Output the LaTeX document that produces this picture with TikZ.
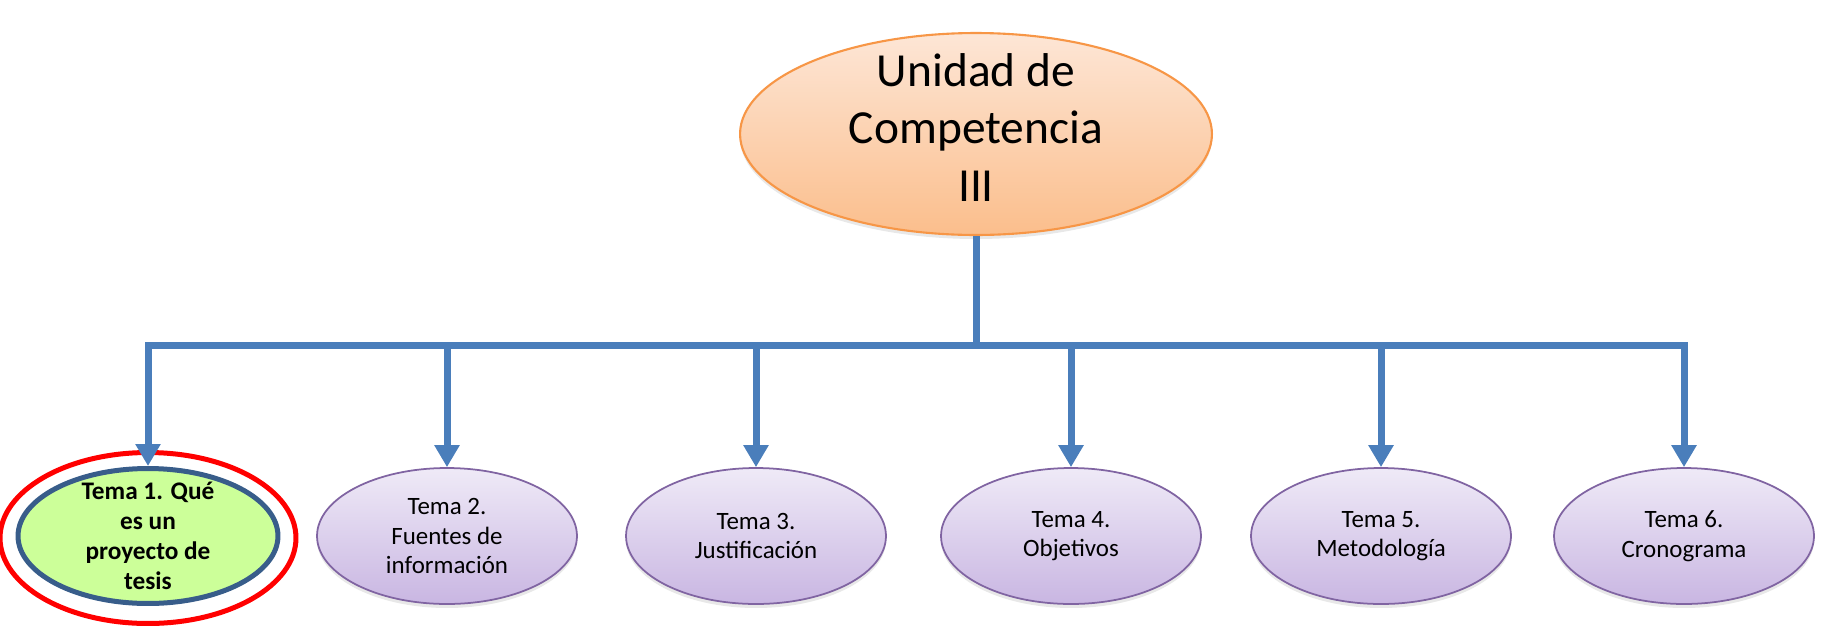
\documentclass[tikz,border=0pt]{standalone}
\usepackage{fontspec}
\setmainfont{Carlito}
\usepackage{tikz}
\usetikzlibrary{arrows.meta,shapes.geometric,shadows}

\definecolor{azul}{HTML}{4A7EBB}
\definecolor{naranjaclaro}{HTML}{FDE6D6}
\definecolor{naranjaoscuro}{HTML}{FBBE8C}
\definecolor{naranjaborde}{HTML}{F79646}
\definecolor{moradoclaro}{HTML}{EFEAF7}
\definecolor{moradooscuro}{HTML}{C9B6E2}
\definecolor{moradoborde}{HTML}{8064A2}
\definecolor{verde}{HTML}{CCFF99}
\definecolor{azulborde}{HTML}{385D8A}

\begin{document}
\begin{tikzpicture}[x = 0.02cm, y = -0.02cm,
  unidad/.style = {ellipse, draw=naranjaborde, line width=1.2pt, top color=naranjaclaro, bottom color=naranjaoscuro,
    minimum width=9.44cm, minimum height=4.04cm, inner sep=-0.6cm, align=center, font=\fontsize{27}{32.5}\selectfont,
    drop shadow={opacity=0.18, shadow xshift=0pt, shadow yshift=-0.08cm}},
  tema/.style = {ellipse, draw=moradoborde, line width=1pt, top color=moradoclaro, bottom color=moradooscuro,
    minimum width=5.2cm, minimum height=2.72cm, inner sep=-0.3cm, align=center, font=\fontsize{14.2}{16.8}\selectfont,
    drop shadow={opacity=0.18, shadow xshift=0pt, shadow yshift=-0.08cm}},
  actual/.style = {ellipse, draw=azulborde, line width=0.1cm, fill=verde,
    minimum width=5.2cm, minimum height=2.7cm, inner sep=-0.3cm, align=center, font=\bfseries\fontsize{14.4}{17}\selectfont},
  marco/.style = {ellipse, draw=red, line width=0.1cm, minimum width=5.92cm, minimum height=3.42cm},
  tronco/.style = {azul, line width=0.14cm},
  flecha/.style = {tronco, -{Triangle[width=0.48cm, length=0.44cm]}}]

\useasboundingbox (0, 0) rectangle (1822, 626);

\node[unidad] (unidad) at (976, 134) {Unidad de\\Competencia\\III\rule[-0.26cm]{0pt}{0pt}};

\node[marco] (marco1) at (148, 538) {};
\node[actual] (tema1) at (148, 536) {Tema 1. Qué\\es un\\proyecto de\\tesis};
\node[tema] (tema2) at (447, 536) {Tema 2.\\Fuentes de\\información};
\node[tema] (tema3) at (756, 536) {Tema 3.\\Justificación};
\node[tema] (tema4) at (1071, 536) {Tema 4.\\Objetivos};
\node[tema] (tema5) at (1381, 536) {Tema 5.\\Metodología};
\node[tema] (tema6) at (1684, 536) {Tema 6.\\Cronograma};

\coordinate (barra) at (976, 345);

\draw[tronco] (unidad.south) -- (unidad.south |- barra);
\draw[tronco, line cap=rect] (tema1.north |- barra) -- (tema6.north |- barra);
\foreach \n in {1,...,6}
  \draw[flecha] (tema\n.north |- barra) -- (tema\n.north);

\end{tikzpicture}
\end{document}
